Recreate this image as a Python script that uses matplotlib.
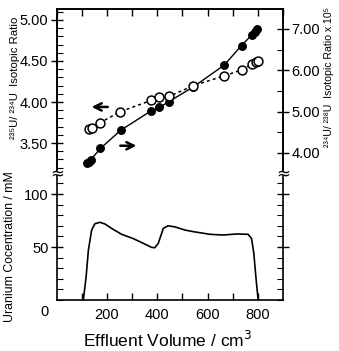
import matplotlib
matplotlib.use("Agg")
import matplotlib.pyplot as plt
from matplotlib.ticker import MultipleLocator, FixedLocator

# ---- data ----
# 234U/238U isotopic ratio x 1e5 (filled circles, right axis)
vol_filled = [122, 128, 135, 174, 255, 376, 408, 446, 544, 667, 735, 775, 788, 797]
ratio_234_238 = [3.76, 3.79, 3.83, 4.11, 4.55, 5.02, 5.10, 5.24, 5.60, 6.13, 6.60, 6.85, 6.93, 7.00]

# 235U/234U isotopic ratio (open circles, left axis)
vol_open = [128, 141, 174, 251, 376, 405, 448, 544, 667, 735, 775, 792, 801]
ratio_235_234 = [3.67, 3.68, 3.75, 3.88, 4.02, 4.06, 4.07, 4.20, 4.32, 4.39, 4.46, 4.49, 4.50]

# uranium concentration (mM)
vol_conc = [106, 117, 126, 139, 152, 172, 192, 218, 258, 304, 344, 377, 390, 404, 424,
            443, 470, 510, 543, 609, 662, 715, 761, 775, 784, 792, 801]
conc = [0, 22, 47, 66, 72, 73.3, 71.7, 67.6, 62, 58, 53.5, 49.7, 49.3, 53.5, 67.6,
        70, 69, 66, 64.5, 62, 61.3, 62.3, 62, 58, 44, 22, 0.5]

x_ticks = [200, 400, 600, 800]
left_ticks = [3.50, 4.00, 4.50, 5.00]
right_ticks = [4.00, 5.00, 6.00, 7.00]
conc_ticks = [50, 100]

FAM = ['Liberation Sans', 'DejaVu Sans']
plt.rcParams['font.family'] = FAM

W, H = 339, 351
fig = plt.figure(figsize=(W / 100, H / 100), dpi=100)

def rect(l, t, r, b):
    return [l / W, 1 - b / H, (r - l) / W, (b - t) / H]

ax_top = fig.add_axes(rect(56.7, 9, 283, 170))
ax_r = ax_top.twinx()
ax_bot = fig.add_axes(rect(56.7, 176, 283, 300))

for a in (ax_top, ax_bot):
    a.set_xlim(0, 900)

# ---- top panel ----
ax_top.set_ylim(3.171, 5.134)
ax_r.set_ylim(3.586, 7.484)
ax_top.set_zorder(ax_r.get_zorder() + 1)
ax_top.patch.set_visible(False)

ax_r.plot(vol_filled, ratio_234_238, '-', color='black', lw=1.0, zorder=2)
ax_r.plot(vol_filled, ratio_234_238, 'o', color='black', ms=5.4, zorder=3)

ax_top.plot(vol_open, ratio_235_234, color='black', lw=1.1, ls=(0, (2.0, 2.0)), zorder=4)
ax_top.plot(vol_open, ratio_235_234, 'o', mfc='white', mec='black', mew=1.1, ms=6.4, zorder=5)

# arrows (in left-axis coordinates)
ax_top.annotate('', xy=(128, 3.94), xytext=(214, 3.94),
                arrowprops=dict(arrowstyle='->', lw=1.8, color='black', mutation_scale=13))
ax_top.annotate('', xy=(328, 3.467), xytext=(242, 3.467),
                arrowprops=dict(arrowstyle='->', lw=1.8, color='black', mutation_scale=13))

ax_top.set_yticks(left_ticks)
ax_top.set_yticklabels([f'{v:.2f}' for v in left_ticks])
ax_top.yaxis.set_minor_locator(MultipleLocator(0.1))
ax_r.set_yticks(right_ticks)
ax_r.set_yticklabels([f'{v:.2f}' for v in right_ticks])
ax_r.yaxis.set_minor_locator(MultipleLocator(0.5))

ax_top.xaxis.set_major_locator(MultipleLocator(100))
ax_top.tick_params(axis='x', which='both', direction='in', top=True, bottom=False,
                   labelbottom=False, length=5, width=1)
ax_top.tick_params(axis='y', which='major', direction='inout', length=8, width=1,
                   labelsize=10.5, pad=2)
ax_top.tick_params(axis='y', which='minor', direction='in', length=4, width=0.8)
ax_r.tick_params(axis='y', which='major', direction='inout', length=8, width=1,
                 labelsize=10.5, pad=2)
ax_r.tick_params(axis='y', which='minor', direction='in', length=4, width=0.8)

for a in (ax_top, ax_r):
    a.spines['bottom'].set_visible(False)
    for s in a.spines.values():
        s.set_linewidth(1.2)

# ---- bottom panel ----
ax_bot.plot(vol_conc, conc, '-', color='black', lw=1.2)
ax_bot.set_ylim(0, 117)
ax_bot.set_yticks(conc_ticks)
ax_bot.set_yticklabels([str(v) for v in conc_ticks])
ax_bot.yaxis.set_minor_locator(MultipleLocator(10))
ax_bot.set_xticks(x_ticks)
ax_bot.set_xticklabels([str(v) for v in x_ticks])
ax_bot.xaxis.set_minor_locator(FixedLocator([100, 300, 500, 700]))
ax_bot.tick_params(axis='x', which='both', direction='in', length=5, width=1,
                   labelsize=10.5, pad=6)
ax_bot.tick_params(axis='y', which='major', direction='inout', length=8, width=1,
                   labelsize=10.5, pad=2, right=True)
ax_bot.tick_params(axis='y', which='minor', direction='in', length=4, width=0.8, right=True)
ax_bot.spines['top'].set_visible(False)
for s in ax_bot.spines.values():
    s.set_linewidth(1.2)
ax_bot.text(-0.035, -0.04, '0', transform=ax_bot.transAxes, ha='right', va='top', fontsize=10.5)

# axis break marks
for xp in (56.7, 283):
    fig.text(xp / W, 1 - 173 / H, '≈', ha='center', va='center', fontsize=12,
             family=['DejaVu Sans'])

# ---- labels ----
fig.text(168 / W, 1 - 340 / H, 'Effluent Volume / cm$^3$', ha='center', va='center', fontsize=12.5)
fig.text(15 / W, 1 - 78 / H, '²³⁵U/ ²³⁴U  Isotopic Ratio', rotation=90, ha='center',
         va='center', fontsize=8.2)
fig.text(329 / W, 1 - 77 / H, '²³⁴U/ ²³⁸U  Isotopic Ratio x 10⁵', rotation=90, ha='center',
         va='center', fontsize=7.6)
fig.text(10 / W, 1 - 247 / H, 'Uranium Cocentration / mM', rotation=90, ha='center',
         va='center', fontsize=8.8)

fig.savefig('out.png', dpi=100)
